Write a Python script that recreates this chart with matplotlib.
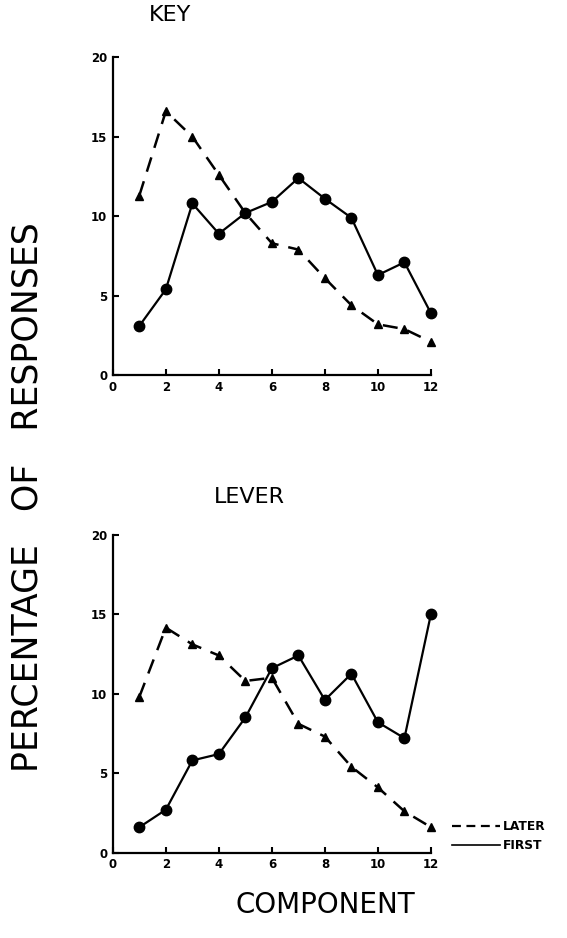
import numpy as np
import matplotlib.pyplot as plt
from matplotlib.lines import Line2D

# component number
component = [1, 2, 3, 4, 5, 6, 7, 8, 9, 10, 11, 12]

# key - percentage of responses
key_first = [3.1, 5.4, 10.8, 8.9, 10.2, 10.9, 12.4, 11.1, 9.9, 6.3, 7.1, 3.9]
key_later = [11.3, 16.6, 15.0, 12.6, 10.2, 8.3, 7.9, 6.1, 4.4, 3.2, 2.9, 2.1]

# lever - percentage of responses
lever_first = [1.6, 2.7, 5.8, 6.2, 8.5, 11.6, 12.4, 9.6, 11.25, 8.2, 7.2, 15.0]
lever_later = [9.8, 14.15, 13.1, 12.4, 10.8, 11.0, 8.1, 7.3, 5.4, 4.1, 2.6, 1.6]

xticks = [0, 2, 4, 6, 8, 10, 12]
yticks = [0, 5, 10, 15, 20]

fig = plt.figure(figsize=(5.67, 9.38), dpi=100)
ax1 = fig.add_axes([0.199, 0.600, 0.561, 0.339])
ax2 = fig.add_axes([0.199, 0.091, 0.561, 0.339])

for ax, first, later in [(ax1, key_first, key_later), (ax2, lever_first, lever_later)]:
  ax.plot(component, later, color='black', lw=1.8, ls=(0, (6, 4)),
          marker='^', ms=5.5, clip_on=False)
  ax.plot(component, first, color='black', lw=1.6, ls='-',
          marker='o', ms=7.5, clip_on=False)
  ax.set_xlim(0, 12)
  ax.set_ylim(0, 20)
  ax.set_xticks(xticks)
  ax.set_yticks(yticks)
  ax.spines['top'].set_visible(False)
  ax.spines['right'].set_visible(False)
  ax.spines['left'].set_linewidth(1.6)
  ax.spines['bottom'].set_linewidth(1.6)
  ax.tick_params(direction='in', length=4, width=1.5, labelsize=8.5, pad=4)
  for lab in ax.get_xticklabels() + ax.get_yticklabels():
    lab.set_fontweight('bold')

fig.text(0.30, 0.984, 'KEY', ha='center', va='center', fontsize=16)
fig.text(0.44, 0.470, 'LEVER', ha='center', va='center', fontsize=16)
fig.text(0.048, 0.470, 'PERCENTAGE   OF   RESPONSES', rotation=90,
         ha='center', va='center', fontsize=25)
fig.text(0.573, 0.035, 'COMPONENT', ha='center', va='center', fontsize=20)

#legend
handles = [Line2D([], [], color='black', lw=1.6, ls=(0, (4, 2.5))),
           Line2D([], [], color='black', lw=1.2, ls='-')]
ax2.legend(handles, ['LATER', 'FIRST'], loc='center left',
           bbox_to_anchor=(1.066, 0.052), frameon=False, handlelength=3.9,
           handletextpad=0.3, labelspacing=0.45, borderaxespad=0, borderpad=0,
           prop={'weight': 'bold', 'size': 8.8})

fig.savefig('out.png')
